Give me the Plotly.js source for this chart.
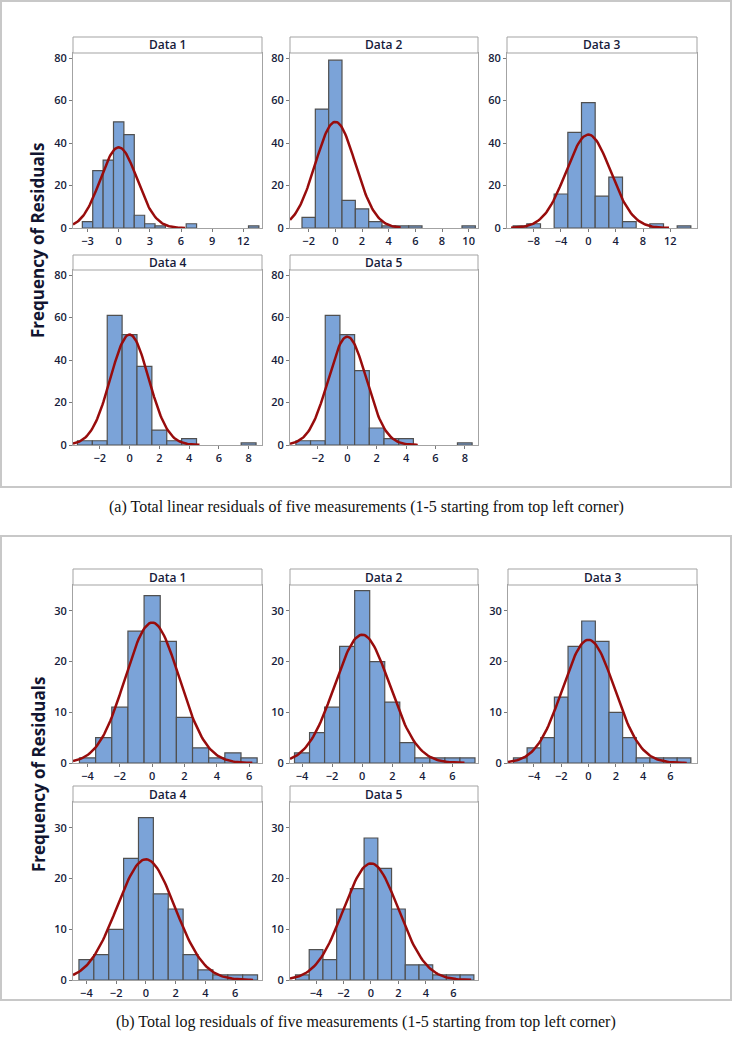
<!DOCTYPE html>
<html>
<head>
<meta charset="utf-8">
<script src="https://cdn.plot.ly/plotly-3.0.1.min.js"></script>
<style>
  html, body { margin: 0; padding: 0; background: #ffffff; }
  #chart { width: 732px; height: 1050px; }
</style>
</head>
<body>
<div id="chart"></div>
<script>
// (a) linear residuals, bin centres and counts per panel
const linCenters1 = [-3, -2, -1, 0, 1, 2, 3, 4, 7, 13];
const linCounts1 = [3, 27, 32, 50, 44, 6, 2, 1, 2, 1];
const linCenters2 = [-2, -1, 0, 1, 2, 3, 4, 5, 6, 10];
const linCounts2 = [5, 56, 79, 13, 9, 3, 1, 1, 1, 1];
const linCenters3 = [-10, -8, -4, -2, 0, 2, 4, 6, 10, 14];
const linCounts3 = [1, 2, 16, 45, 59, 15, 24, 3, 2, 1];
const linCenters4 = [-3, -2, -1, 0, 1, 2, 3, 4, 8];
const linCounts4 = [2, 2, 61, 52, 37, 7, 2, 3, 1];
const linCenters5 = [-3, -2, -1, 0, 1, 2, 3, 4, 8];
const linCounts5 = [2, 2, 61, 52, 35, 8, 3, 3, 1];
const linBinWidth = [1, 1, 2, 1, 1];
// fitted normal curve: peak height, sigma, drawn span
const linFitPeak = [38, 50, 44, 52, 51];
const linFitSigma = [1.76, 1.5, 3.25, 1.28, 1.3];
const linFitFrom = [-4.4, -3.4, -11.3, -3.8, -3.9];
const linFitTo = [6.4, 4.9, 11.8, 4.7, 4.8];
const linRanges = [[-4.4, 13.8], [-3.4, 10.7], [-11.9, 15.9], [-3.8, 8.9], [-3.9, 8.9]];
const linDtick = [3, 2, 4, 2, 2];

// (b) log residuals
const logCenters1 = [-4, -3, -2, -1, 0, 1, 2, 3, 4, 5, 6];
const logCounts1 = [1, 5, 11, 26, 33, 24, 9, 3, 1, 2, 1];
const logCenters2 = [-4, -3, -2, -1, 0, 1, 2, 3, 4, 5, 6, 7];
const logCounts2 = [2, 6, 11, 23, 34, 20, 12, 4, 1, 1, 1, 1];
const logCenters3 = [-5, -4, -3, -2, -1, 0, 1, 2, 3, 4, 5, 6, 7];
const logCounts3 = [1, 3, 5, 13, 23, 28, 24, 10, 5, 1, 1, 1, 1];
const logCenters4 = [-4, -3, -2, -1, 0, 1, 2, 3, 4, 5, 6, 7];
const logCounts4 = [4, 5, 10, 24, 32, 17, 14, 5, 2, 1, 1, 1];
const logCenters5 = [-5, -4, -3, -2, -1, 0, 1, 2, 3, 4, 5, 6, 7];
const logCounts5 = [1, 6, 4, 14, 18, 28, 22, 14, 3, 3, 1, 1, 1];
const logBinWidth = [1, 1, 1, 1, 1];
const logFitPeak = [27.7, 25.3, 24.3, 23.8, 23];
const logFitSigma = [1.67, 1.83, 1.9, 1.94, 2.0];
const logFitFrom = [-4.9, -4.8, -5.9, -4.9, -5.9];
const logFitTo = [6.2, 6.8, 7.2, 7.2, 7.3];
const logRanges = [[-4.9, 6.8], [-4.8, 7.7], [-5.9, 7.95], [-4.9, 7.8], [-5.9, 7.8]];
const logDtick = [2, 2, 2, 2, 2];

const panelTitles = ["Data 1", "Data 2", "Data 3", "Data 4", "Data 5"];
const yTitle = "Frequency of Residuals";
const captionA = "(a) Total linear residuals of five measurements (1-5 starting from top left corner)";
const captionB = "(b) Total log residuals of five measurements (1-5 starting from top left corner)";

const W = 732, H = 1050;
const px = (x) => x / W;
const py = (y) => 1 - y / H;

const BAR_FILL = "#7ba3d8";
const BAR_EDGE = "#505050";
const CURVE = "#980c0c";
const FRAME = "#a3a3a3";
const TEXT = "#161b3a";

// pixel boxes of the panels [x0, x1, stripTop, plotTop, plotBottom]
const topBoxes = [
  [73, 262, 37, 53, 228], [290, 478, 37, 53, 228], [507, 697, 37, 53, 228],
  [73, 262, 255, 270, 445], [290, 478, 255, 270, 445]
];
const bottomBoxes = [
  [73, 262, 569, 585, 763], [290, 478, 569, 585, 763], [508, 697, 569, 585, 763],
  [73, 262, 786, 802, 980], [290, 478, 786, 802, 980]
];

const linCenters = [linCenters1, linCenters2, linCenters3, linCenters4, linCenters5];
const linCounts = [linCounts1, linCounts2, linCounts3, linCounts4, linCounts5];
const logCenters = [logCenters1, logCenters2, logCenters3, logCenters4, logCenters5];
const logCounts = [logCounts1, logCounts2, logCounts3, logCounts4, logCounts5];

function normalCurve(peak, sigma, from, to) {
  const xs = [], ys = [];
  const n = 120;
  for (let i = 0; i <= n; i++) {
    const x = from + (to - from) * i / n;
    xs.push(x);
    ys.push(peak * Math.exp(-(x * x) / (2 * sigma * sigma)));
  }
  return { xs, ys };
}

const traces = [];
const layout = {
  width: W,
  height: H,
  margin: { l: 0, r: 0, t: 0, b: 0 },
  paper_bgcolor: "#ffffff",
  plot_bgcolor: "#ffffff",
  showlegend: false,
  font: { family: "Open Sans, DejaVu Sans, sans-serif", color: TEXT, size: 11 },
  shapes: [],
  annotations: [],
  bargap: 0
};

function addPanel(idx, box, centers, counts, binW, peak, sigma, from, to, xrange, dtick, yMax, yDtick, title) {
  const n = idx + 1;
  const xa = n === 1 ? "x" : "x" + n;
  const ya = n === 1 ? "y" : "y" + n;
  const [x0, x1, sTop, pTop, pBot] = box;

  traces.push({
    type: "bar",
    x: centers,
    y: counts,
    width: centers.map(() => binW),
    xaxis: xa,
    yaxis: ya,
    marker: { color: BAR_FILL, line: { color: BAR_EDGE, width: 1.2 } },
    hoverinfo: "x+y"
  });

  const c = normalCurve(peak, sigma, from, to);
  traces.push({
    type: "scatter",
    mode: "lines",
    x: c.xs,
    y: c.ys,
    xaxis: xa,
    yaxis: ya,
    line: { color: CURVE, width: 2.5 },
    hoverinfo: "skip"
  });

  const axisCommon = {
    showline: true,
    mirror: true,
    linecolor: FRAME,
    linewidth: 1,
    showgrid: false,
    zeroline: false,
    ticks: "outside",
    ticklen: 3,
    tickcolor: "#7a7a7a",
    tickfont: { size: 11, color: TEXT, family: "Open Sans, sans-serif", weight: 600 },
    fixedrange: true
  };

  layout[n === 1 ? "xaxis" : "xaxis" + n] = {
    ...axisCommon,
    anchor: ya,
    domain: [px(x0), px(x1)],
    range: xrange,
    tick0: 0,
    dtick: dtick
  };
  layout[n === 1 ? "yaxis" : "yaxis" + n] = {
    ...axisCommon,
    anchor: xa,
    domain: [py(pBot), py(pTop)],
    range: [0, yMax],
    tick0: 0,
    dtick: yDtick
  };

  // strip with the panel title
  layout.shapes.push({
    type: "rect",
    xref: "paper", yref: "paper",
    x0: px(x0), x1: px(x1), y0: py(pTop), y1: py(sTop),
    fillcolor: "#ffffff",
    line: { color: FRAME, width: 1 }
  });
  layout.annotations.push({
    xref: "paper", yref: "paper",
    x: px((x0 + x1) / 2), y: py((sTop + pTop) / 2),
    xanchor: "center", yanchor: "middle",
    text: title,
    showarrow: false,
    font: { size: 12, color: TEXT, family: "Open Sans, sans-serif", weight: 600 }
  });
}

for (let i = 0; i < 5; i++) {
  addPanel(i, topBoxes[i], linCenters[i], linCounts[i], linBinWidth[i],
    linFitPeak[i], linFitSigma[i], linFitFrom[i], linFitTo[i],
    linRanges[i], linDtick[i], 82.4, 20, panelTitles[i]);
}
for (let i = 0; i < 5; i++) {
  addPanel(i + 5, bottomBoxes[i], logCenters[i], logCounts[i], logBinWidth[i],
    logFitPeak[i], logFitSigma[i], logFitFrom[i], logFitTo[i],
    logRanges[i], logDtick[i], 35.1, 10, panelTitles[i]);
}

// outer frames of the two figure blocks
[[1, 487], [536, 1000]].forEach(([t, b]) => {
  layout.shapes.push({
    type: "rect",
    xref: "paper", yref: "paper",
    x0: px(1), x1: px(731), y0: py(b), y1: py(t),
    line: { color: "#c8c8c8", width: 2 },
    layer: "below"
  });
});

// shared y titles
[241, 775].forEach((yc) => {
  layout.annotations.push({
    xref: "paper", yref: "paper",
    x: px(38), y: py(yc),
    xanchor: "center", yanchor: "middle",
    text: yTitle,
    textangle: -90,
    showarrow: false,
    font: { size: 17, color: "#121530", family: "Open Sans, sans-serif", weight: "bold" }
  });
});

// captions
[[captionA, 507], [captionB, 1022]].forEach(([txt, yc]) => {
  layout.annotations.push({
    xref: "paper", yref: "paper",
    x: 0.5, y: py(yc),
    xanchor: "center", yanchor: "middle",
    text: txt,
    showarrow: false,
    font: { size: 16, color: "#111111", family: "Liberation Serif, Times New Roman, serif" }
  });
});

Plotly.newPlot("chart", traces, layout, { displayModeBar: false, staticPlot: true });
</script>
</body>
</html>
